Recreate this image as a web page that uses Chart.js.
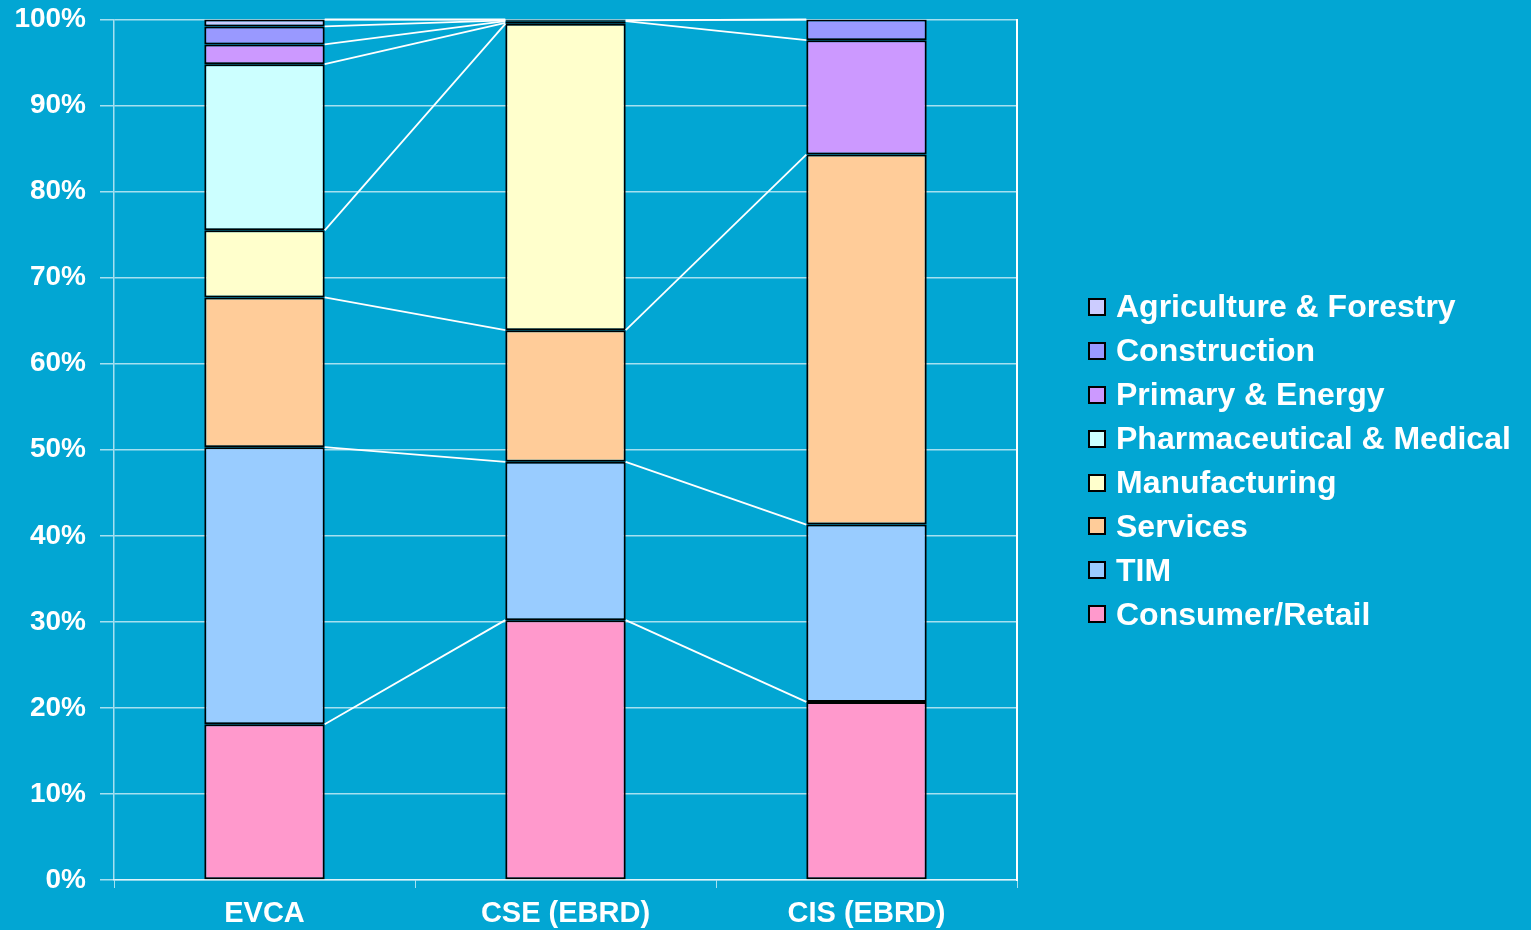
<!DOCTYPE html>
<html>
<head>
<meta charset="utf-8">
<title>Sector breakdown</title>
<script src="https://cdn.jsdelivr.net/npm/chart.js@4.4.0/dist/chart.umd.min.js"></script>
<style>
    html, body { margin: 0; padding: 0; background: #02a6d3; }
    #wrap { width: 1531px; height: 930px; position: relative; }
    #legend {
        position: absolute; left: 1088px; top: 285px;
        font: bold 32px 'Liberation Sans', Arial, sans-serif; color: #fff;
    }
    #legend .row { display: flex; align-items: center; height: 43.9px; white-space: nowrap; }
    #legend .swatch { width: 18px; height: 18px; box-sizing: border-box; border: 2px solid #000; margin-right: 10px; }
</style>
</head>
<body>
<div id="wrap"><canvas id="chart"></canvas><div id="legend"></div></div>
<script>
const categories = ['EVCA', 'CSE (EBRD)', 'CIS (EBRD)'];

// share of each sector, % (bottom of the stack first)
const consumerRetail = [18.1, 30.2, 20.7];
const tim = [32.2, 18.4, 20.6];
const services = [17.4, 15.3, 43.0];
const manufacturing = [7.8, 35.6, 0];
const pharmaMedical = [19.3, 0.1, 0];
const primaryEnergy = [2.3, 0.2, 13.3];
const construction = [2.1, 0.1, 2.4];
const agriculture = [0.8, 0.1, 0];

const yTicks = [0, 10, 20, 30, 40, 50, 60, 70, 80, 90, 100];

const FONT = "'Liberation Sans', Arial, sans-serif";
const GRID = 'rgba(255,255,255,0.65)';

function series(label, data, color) {
    return {
        label: label,
        data: data,
        backgroundColor: color,
        borderColor: '#000',
        borderWidth: 2,
        borderSkipped: false,
        categoryPercentage: 1,
        barPercentage: 0.4
    };
}

// Excel style series lines between neighbouring bars
const seriesLines = {
    id: 'seriesLines',
    afterDatasetsDraw(chart) {
        const ctx = chart.ctx;
        ctx.save();
        ctx.strokeStyle = '#fff';
        ctx.lineWidth = 1.8;
        chart.data.datasets.forEach((ds, di) => {
            const bars = chart.getDatasetMeta(di).data;
            for (let i = 0; i < bars.length - 1; i++) {
                // no line when one end is an empty segment
                if (!ds.data[i] || !ds.data[i + 1]) continue;
                const a = bars[i], b = bars[i + 1];
                ctx.beginPath();
                ctx.moveTo(a.x + a.width / 2, a.y);
                ctx.lineTo(b.x - b.width / 2, b.y);
                ctx.stroke();
            }
        });
        ctx.restore();
    }
};

// legend as html, top of the stack first
const htmlLegend = {
    id: 'htmlLegend',
    afterUpdate(chart) {
        const box = document.getElementById('legend');
        box.innerHTML = '';
        const items = chart.options.plugins.legend.labels.generateLabels(chart).reverse();
        for (const item of items) {
            const row = document.createElement('div');
            row.className = 'row';
            const swatch = document.createElement('span');
            swatch.className = 'swatch';
            swatch.style.background = item.fillStyle;
            const text = document.createElement('span');
            text.textContent = item.text;
            row.appendChild(swatch);
            row.appendChild(text);
            box.appendChild(row);
        }
    }
};

new Chart(document.getElementById('chart'), {
    type: 'bar',
    data: {
        labels: categories,
        datasets: [
            series('Consumer/Retail', consumerRetail, '#ff99cc'),
            series('TIM', tim, '#99ccff'),
            series('Services', services, '#ffcc99'),
            series('Manufacturing', manufacturing, '#ffffcc'),
            series('Pharmaceutical & Medical', pharmaMedical, '#ccffff'),
            series('Primary & Energy', primaryEnergy, '#cc99ff'),
            series('Construction', construction, '#9999ff'),
            series('Agriculture & Forestry', agriculture, '#ccccff')
        ]
    },
    options: {
        responsive: true,
        maintainAspectRatio: false,
        animation: false,
        layout: { padding: { left: 14, right: 514, top: 19.5, bottom: 0 } },
        plugins: {
            tooltip: { enabled: false },
            legend: { display: false }
        },
        scales: {
            x: {
                stacked: true,
                grid: { drawOnChartArea: false, drawTicks: true, tickLength: 8, tickColor: GRID, color: GRID },
                border: { display: true, color: GRID, width: 1.5 },
                ticks: {
                    color: '#fff',
                    padding: 9,
                    font: { family: FONT, size: 29, weight: 'bold', lineHeight: 1.2 }
                },
                afterFit: (axis) => { axis.height = 50; }
            },
            y: {
                stacked: true,
                min: 0,
                max: 100,
                afterBuildTicks: (axis) => { axis.ticks = yTicks.map(v => ({ value: v })); },
                grid: { color: GRID, lineWidth: 1.5, tickLength: 14 },
                border: { display: true, color: GRID, width: 1.5 },
                ticks: {
                    color: '#fff',
                    padding: 14,
                    font: { family: FONT, size: 28, weight: 'bold', lineHeight: 0.3 },
                    callback: (v) => v + '%'
                },
                afterFit: (axis) => { axis.width = 100; }
            },
            y2: {
                position: 'right',
                display: true,
                grid: { display: false, drawTicks: false },
                ticks: { display: false },
                border: { display: true, color: '#fff', width: 2 },
                afterFit: (axis) => { axis.width = 0; }
            }
        }
    },
    plugins: [seriesLines, htmlLegend]
});
</script>
</body>
</html>
